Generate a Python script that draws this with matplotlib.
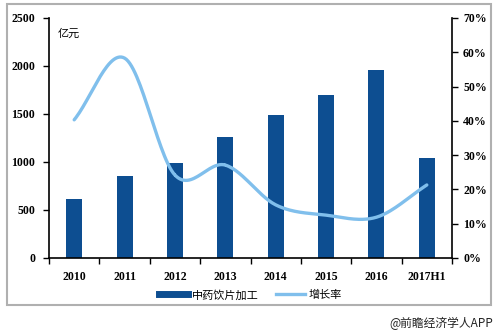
import numpy as np
import matplotlib.pyplot as plt
from matplotlib.patches import Rectangle
from matplotlib.lines import Line2D

years = ['2010', '2011', '2012', '2013', '2014', '2015', '2016', '2017H1']
output = [610, 850, 990, 1260, 1490, 1695, 1955, 1045]   # 亿元
growth = [40.3, 58.3, 24.2, 27.1, 15.5, 12.5, 11.9, 21.3]  # %

bar_color = '#0d4e91'
line_color = '#80bfec'
cjk = ['Noto Sans CJK SC', 'DejaVu Sans']
num_font = dict(family='Liberation Serif', weight='bold', size=8.5)


def smooth(x, y, n=30):
    # Catmull-Rom curve through the points, like Excel's smoothed line
    x = np.asarray(x, float)
    y = np.asarray(y, float)
    px = np.concatenate([[2 * x[0] - x[1]], x, [2 * x[-1] - x[-2]]])
    py = np.concatenate([[2 * y[0] - y[1]], y, [2 * y[-1] - y[-2]]])
    xs, ys = [], []
    t = np.linspace(0, 1, n)
    for i in range(1, len(px) - 2):
        for p, out in ((px, xs), (py, ys)):
            p0, p1, p2, p3 = p[i - 1], p[i], p[i + 1], p[i + 2]
            out.extend(0.5 * (2 * p1 + (-p0 + p2) * t
                              + (2 * p0 - 5 * p1 + 4 * p2 - p3) * t ** 2
                              + (-p0 + 3 * p1 - 3 * p2 + p3) * t ** 3))
    return np.array(xs), np.array(ys)


fig = plt.figure(figsize=(5.01, 3.34), dpi=100)
ax = fig.add_axes([49 / 501, 1 - 258 / 334, (452 - 49) / 501, (258 - 18) / 334])
ax2 = ax.twinx()

x = np.arange(len(years))
ax.bar(x, output, width=0.32, color=bar_color, zorder=2)
ax.set_xlim(-0.5, len(years) - 0.5)
ax.set_ylim(0, 2500)
ax.set_yticks(range(0, 2501, 500))

sx, sy = smooth(x, growth)
ax2.plot(sx, sy, color=line_color, lw=2.4, solid_capstyle='round')
ax2.set_ylim(0, 70)
ax2.set_yticks(range(0, 71, 10))
ax2.set_yticklabels([f'{v}%' for v in range(0, 71, 10)])

ax.set_xticks(x)
ax.set_xticklabels(years)
ax.set_xticks(np.arange(-0.5, len(years), 1), minor=True)
ax.tick_params(axis='x', which='major', length=0, pad=9)
ax.tick_params(axis='x', which='minor', length=4, direction='out', width=1)
ax.tick_params(axis='y', length=4, width=1, direction='out', pad=6)
ax2.tick_params(axis='y', length=4, width=1, direction='out', pad=4)
for a in (ax, ax2):
    a.spines['top'].set_visible(False)
    for lab in a.get_xticklabels() + a.get_yticklabels():
        lab.set(**num_font)
ax.spines['right'].set_visible(False)
ax2.spines['left'].set_visible(False)
ax2.spines['bottom'].set_visible(False)
for s in ('left', 'bottom'):
    ax.spines[s].set_linewidth(1.2)
ax2.spines['right'].set_linewidth(1.2)

ax.text(0.022, 0.955, '亿元', transform=ax.transAxes, family=cjk, fontsize=8,
        va='top', ha='left')

# legend
handles = [Line2D([], [], color=bar_color, lw=5),
           Line2D([], [], color=line_color, lw=2.4)]
leg = fig.legend(handles, ['中药饮片加工', '增长率'], loc='center',
                 bbox_to_anchor=(0.50, 1 - 295 / 334), ncol=2, frameon=False,
                 prop={'family': cjk, 'size': 8}, handlelength=2.6,
                 columnspacing=1.6, handletextpad=0.3)

# outer frame
fig.patches.append(Rectangle((7 / 501, 1 - 305 / 334), 484 / 501, 301 / 334,
                             transform=fig.transFigure, fill=False,
                             edgecolor='#b0b0b0', lw=1.5))

fig.text(493 / 501, 1 - 323 / 334, '@前瞻经济学人APP', family=cjk, fontsize=8.5,
         ha='right', va='center', color='#222222')

fig.savefig('out.png', dpi=100)
